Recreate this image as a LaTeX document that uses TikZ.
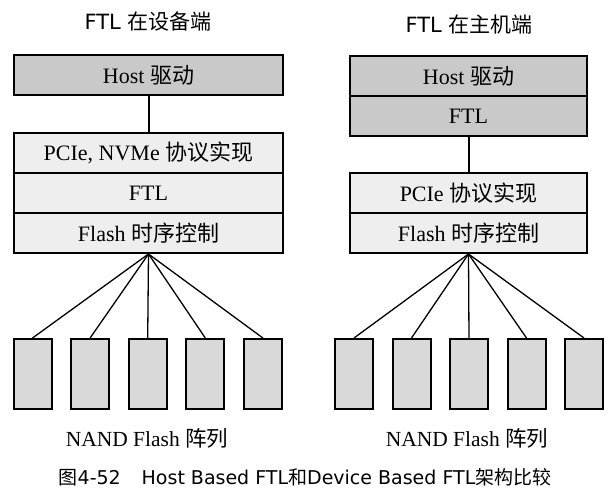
\documentclass[tikz,border=0pt]{standalone}
\usepackage{fontspec}
\setmainfont{Liberation Serif}
\newfontfamily\cjk{Noto Sans CJK SC}
\newfontfamily\hei{DejaVu Sans}
\newcommand\zh[1]{{\cjk #1}}
\definecolor{hostgray}{HTML}{C9C9C9}
\definecolor{devgray}{HTML}{EEEEEE}
\definecolor{nandgray}{HTML}{D9D9D9}
\begin{document}
\begin{tikzpicture}[x=1pt,y=-1pt,
  layer/.style={draw,line width=2pt,inner sep=0pt,minimum height=40pt,font=\fontsize{22}{22}\selectfont},
  hostlayer/.style={layer,fill=hostgray},
  devlayer/.style={layer,fill=devgray},
  nand/.style={draw,line width=2pt,fill=nandgray,minimum width=38pt,minimum height=70pt,inner sep=0pt},
  title/.style={font=\hei\fontsize{21}{21}\selectfont},
  arraylabel/.style={font=\fontsize{21.5}{21.5}\selectfont}]
\useasboundingbox (0,0) rectangle (614,493);
% FTL in the device
\node[title] (ltitle) at (148,22) {FTL \zh{在设备端}};
\node[hostlayer,minimum width=269pt] (lhost) at (148.5,75) {Host \zh{驱动}};
\node[devlayer,minimum width=269pt] (lpcie) at (148.5,153) {PCIe, NVMe \zh{协议实现}};
\node[devlayer,minimum width=269pt] (lftl) at (148.5,193) {FTL};
\node[devlayer,minimum width=269pt] (lflash) at (148.5,233) {Flash \zh{时序控制}};
\draw[line width=2pt] (lhost.south) -- (lpcie.north);
\foreach \i in {1,...,5}{
  \node[nand] (ln\i) at ({32.5+57.6*(\i-1)},374) {};
  \draw[line width=1.3pt] (lflash.south) -- (ln\i.north);
}
\node[arraylabel] (llabel) at (147,438) {NAND Flash \zh{阵列}};
% FTL in the host
\node[title] (rtitle) at (469,25) {FTL \zh{在主机端}};
\node[hostlayer,minimum width=237pt] (rhost) at (468.5,76) {Host \zh{驱动}};
\node[hostlayer,minimum width=237pt] (rftl) at (468.5,116) {FTL};
\node[devlayer,minimum width=237pt] (rpcie) at (468.5,193) {PCIe \zh{协议实现}};
\node[devlayer,minimum width=237pt] (rflash) at (468.5,233) {Flash \zh{时序控制}};
\draw[line width=2pt] (rftl.south) -- (rpcie.north);
\foreach \i in {1,...,5}{
  \node[nand] (rn\i) at ({354+57.5*(\i-1)},374) {};
  \draw[line width=1.3pt] (rflash.south) -- (rn\i.north);
}
\node[arraylabel] (rlabel) at (467,438) {NAND Flash \zh{阵列}};
% caption
\node[font=\hei\fontsize{19}{19}\selectfont] (caption) at (305,477) {\zh{图}4-52\hspace{1.1em}Host Based FTL\zh{和}Device Based FTL\zh{架构比较}};
\end{tikzpicture}
\end{document}
